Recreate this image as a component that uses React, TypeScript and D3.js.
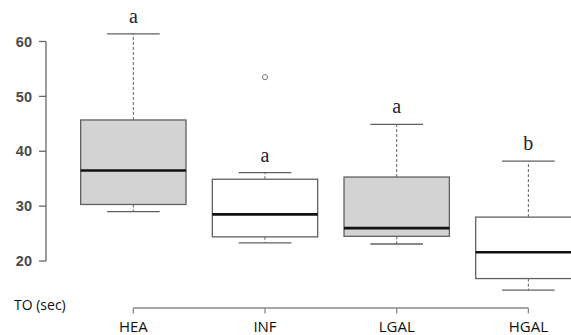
import React from 'react'
import * as d3 from 'd3'

// groups along the bottom
const groups = ['HEA', 'INF', 'LGAL', 'HGAL']

// five-number summaries (TO in seconds)
const whiskerLow = [29.0, 23.3, 23.1, 14.7]
const quartileLow = [30.3, 24.4, 24.5, 16.8]
const medians = [36.5, 28.5, 26.0, 21.6]
const quartileHigh = [45.7, 34.9, 35.3, 28.0]
const whiskerHigh = [61.4, 36.1, 44.9, 38.2]

// single outlier on INF
const outliers = [{ group: 'INF', value: 53.5 }]

// significance letters above each box
const letters = ['a', 'a', 'a', 'b']
const shaded = [true, false, true, false]

const yTicks = [20, 30, 40, 50, 60]

const width = 571
const height = 335

const App = () => {
  const x = d3.scaleBand<string>()
    .domain(groups)
    .range([67.5, 594.2])
    .paddingInner(0.2)
    .paddingOuter(0.1)

  const y = d3.scaleLinear()
    .domain([20, 60])
    .range([261, 41.5])

  const bw = x.bandwidth()
  const axisColor = '#666'
  const boxStroke = '#606060'

  const boxes = groups.map((g, i) => {
    const cx = (x(g) as number) + bw / 2
    const x0 = x(g) as number
    const capHalf = bw / 4
    return (
      <g key={g}>
        {/* whiskers */}
        <line x1={cx} x2={cx} y1={y(quartileHigh[i])} y2={y(whiskerHigh[i])}
          stroke={boxStroke} strokeWidth={1} strokeDasharray="3,2" />
        <line x1={cx} x2={cx} y1={y(quartileLow[i])} y2={y(whiskerLow[i])}
          stroke={boxStroke} strokeWidth={1} strokeDasharray="3,2" />
        <line x1={cx - capHalf} x2={cx + capHalf} y1={y(whiskerHigh[i])} y2={y(whiskerHigh[i])}
          stroke={boxStroke} strokeWidth={1.3} />
        <line x1={cx - capHalf} x2={cx + capHalf} y1={y(whiskerLow[i])} y2={y(whiskerLow[i])}
          stroke={boxStroke} strokeWidth={1.3} />
        {/* box */}
        <rect x={x0} width={bw} y={y(quartileHigh[i])}
          height={y(quartileLow[i]) - y(quartileHigh[i])}
          fill={shaded[i] ? '#d3d3d3' : '#fff'} stroke={boxStroke} strokeWidth={1.3} />
        {/* median */}
        <line x1={x0} x2={x0 + bw} y1={y(medians[i])} y2={y(medians[i])}
          stroke="#111" strokeWidth={2.6} />
        {/* letter */}
        <text x={cx} y={y(whiskerHigh[i]) - 11} textAnchor="middle"
          fontFamily="'Liberation Serif', 'DejaVu Serif', serif" fontSize={20} fill="#1c2233">
          {letters[i]}
        </text>
      </g>
    )
  })

  const points = outliers.map((o, i) => (
    <circle key={i} cx={(x(o.group) as number) + bw / 2} cy={y(o.value)} r={2.6}
      fill="none" stroke="#777" strokeWidth={1} />
  ))

  const firstX = (x(groups[0]) as number) + bw / 2
  const lastX = (x(groups[groups.length - 1]) as number) + bw / 2
  const axisY = 308

  return (
    <svg width={width} height={height}
      style={{ position: 'absolute', left: 0, top: 0, background: '#fff' }}>
      {/* y axis */}
      <g>
        <line x1={46} x2={46} y1={y(20)} y2={y(60)} stroke={axisColor} strokeWidth={1.3} />
        {yTicks.map((t) => (
          <g key={t}>
            <line x1={39} x2={46} y1={y(t)} y2={y(t)} stroke={axisColor} strokeWidth={1.3} />
            <text x={32} y={y(t)} dy="0.36em" textAnchor="end"
              fontFamily="'Liberation Sans', Arial, sans-serif" fontWeight="bold"
              fontSize={14.5} fill="#4a4a4a">{t}</text>
          </g>
        ))}
      </g>

      {boxes}
      {points}

      {/* bottom axis */}
      <g>
        <line x1={firstX} x2={lastX} y1={axisY} y2={axisY} stroke="#888" strokeWidth={1.3} />
        {groups.map((g) => {
          const cx = (x(g) as number) + bw / 2
          return (
            <g key={g}>
              <line x1={cx} x2={cx} y1={axisY} y2={axisY + 5.5} stroke="#888" strokeWidth={1.3} />
              <text x={cx} y={331.5} textAnchor="middle"
                fontFamily="'Open Sans', sans-serif" fontSize={15} fill="#111">{g}</text>
            </g>
          )
        })}
        <text x={14} y={309.5} fontFamily="'Open Sans', sans-serif" fontSize={14} fill="#111">
          TO (sec)
        </text>
      </g>
    </svg>
  )
}

export default App
